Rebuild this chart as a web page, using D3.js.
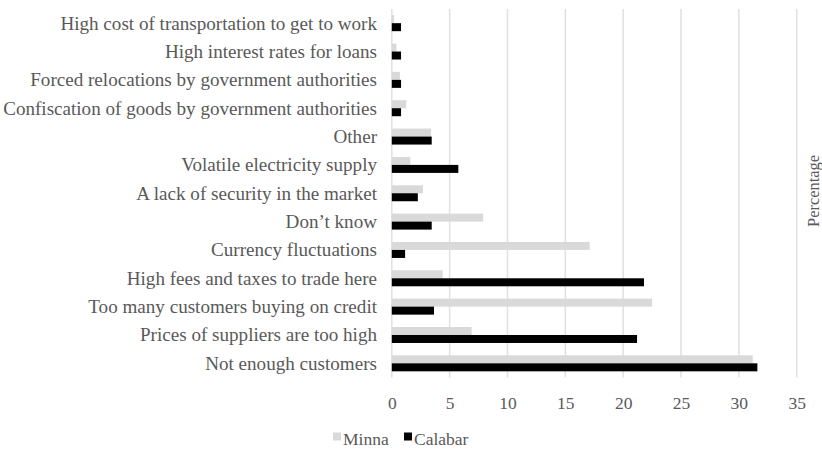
<!DOCTYPE html>
<html><head><meta charset="utf-8">
<script src="https://cdn.jsdelivr.net/npm/d3@7"></script>
<style>body{margin:0;background:#fff;}svg{display:block;} svg text{font-family:"Liberation Serif","Times New Roman",serif;}</style>
</head><body><div id="chart"></div>
<script>
const categories = [
  "High cost of transportation to get to work",
  "High interest rates for loans",
  "Forced relocations by government authorities",
  "Confiscation of goods by government authorities",
  "Other",
  "Volatile electricity supply",
  "A lack of security in the market",
  "Don\u2019t know",
  "Currency fluctuations",
  "High fees and taxes to trade here",
  "Too many customers buying on credit",
  "Prices of suppliers are too high",
  "Not enough customers"
];
const minna   = [0.2, 0.4, 0.7, 1.25, 3.4, 1.6, 2.7, 7.9, 17.1, 4.4, 22.5, 6.9, 31.2];
const calabar = [0.8, 0.8, 0.8, 0.8, 3.45, 5.75, 2.25, 3.45, 1.15, 21.8, 3.65, 21.2, 31.6];
const seriesNames = ["Minna", "Calabar"];
const seriesColors = ["#d9d9d9", "#000000"];
const xTicks = [0, 5, 10, 15, 20, 25, 30, 35];
const axisTitle = "Percentage";

const W = 822, H = 450;
const svg = d3.select("#chart").append("svg").attr("width", W).attr("height", H);
const pLeft = 391.8, pRight = 796.7, pTop = 9, pBottom = 377.5;
const x = d3.scaleLinear().domain([0, 35]).range([pLeft, pRight]);
const y = d3.scaleBand().domain(categories).range([pTop, pBottom]);
const inner = d3.scaleBand().domain(seriesNames).range([y.bandwidth()/2 - 8, y.bandwidth()/2 + 8]);
const txt = "#595959";

// gridlines
svg.append("g").selectAll("line").data(xTicks).join("line")
  .attr("x1", d => x(d)).attr("x2", d => x(d))
  .attr("y1", pTop).attr("y2", pBottom)
  .attr("stroke", "#e0e0e0").attr("stroke-width", 1.5);

const data = [minna, calabar];
data.forEach((vals, si) => {
  svg.append("g").selectAll("rect").data(vals).join("rect")
    .attr("x", x(0))
    .attr("y", (d, i) => y(categories[i]) + inner(seriesNames[si]))
    .attr("width", d => x(d) - x(0))
    .attr("height", inner.bandwidth())
    .attr("fill", seriesColors[si]);
});

// category labels
svg.append("g").selectAll("text").data(categories).join("text")
  .attr("x", 377).attr("y", d => y(d) + y.bandwidth()/2)
  .attr("text-anchor", "end").attr("dominant-baseline", "central")
  .style("font-size", "19.1px").attr("fill", txt)
  .text(d => d);

// x tick labels
const xAxis = d3.axisBottom(x).tickValues(xTicks).tickSize(0).tickPadding(0);
const gx = svg.append("g").attr("transform", `translate(0,${pBottom + 19})`).call(xAxis);
gx.select(".domain").remove();
gx.attr("font-family", null).attr("font-size", null);
gx.selectAll("text").style("font-size", "17.5px").attr("fill", txt);

// axis title
svg.append("text").attr("transform", "translate(819,191) rotate(-90)")
  .attr("text-anchor", "middle")
  .style("font-size", "16.4px").attr("fill", txt).text(axisTitle);

// legend
const legendX = [333, 404];
seriesNames.forEach((n, i) => {
  const g = svg.append("g").attr("transform", `translate(${legendX[i]},432.5)`);
  g.append("rect").attr("x", 0).attr("y", 0).attr("width", 8).attr("height", 8).attr("fill", seriesColors[i]);
  g.append("text").attr("x", 10).attr("y", 12.5)
    .style("font-size", "17.5px").attr("fill", txt).text(n);
});
</script></body></html>
